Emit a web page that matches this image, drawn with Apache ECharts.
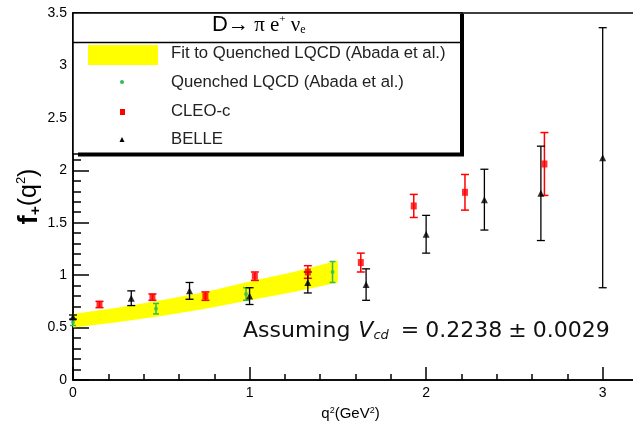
<!DOCTYPE html>
<html><head><meta charset="utf-8">
<script src="https://cdn.jsdelivr.net/npm/echarts@6/dist/echarts.min.js"></script>
<style>html,body{margin:0;padding:0;background:#fff}#c{width:633px;height:429px}</style>
</head><body><div id="c"></div>
<script>
// ---- data ----
const cleoX   = [0.15, 0.45, 0.75, 1.03, 1.33, 1.63, 1.93, 2.22, 2.67];
const cleoY   = [0.72, 0.79, 0.80, 0.99, 1.03, 1.12, 1.66, 1.79, 2.06];
const cleoErr = [0.03, 0.03, 0.04, 0.04, 0.06, 0.09, 0.11, 0.17, 0.30];

const belleX   = [0.00, 0.33, 0.66, 1.00, 1.33, 1.66, 2.00, 2.33, 2.65, 3.00];
const belleY   = [0.60, 0.78, 0.85, 0.80, 0.93, 0.91, 1.39, 1.72, 1.78, 2.12];
const belleErr = [0.02, 0.07, 0.08, 0.08, 0.10, 0.15, 0.18, 0.29, 0.45, 1.24];

const lqcdX   = [0.00, 0.47, 0.98, 1.47];
const lqcdY   = [0.55, 0.68, 0.82, 1.03];
const lqcdErr = [0.03, 0.05, 0.06, 0.10];

const bandX  = [0.00, 0.25, 0.50, 0.75, 1.00, 1.25, 1.50];
const bandLo = [0.50, 0.55, 0.61, 0.68, 0.76, 0.84, 0.93];
const bandHi = [0.63, 0.69, 0.76, 0.84, 0.94, 1.03, 1.14];

const legendLabels = ['Fit to Quenched LQCD (Abada et al.)', 'Quenched LQCD (Abada et al.)', 'CLEO-c', 'BELLE'];

// ---- build ----
const rows = (xs, ys, es) => xs.map((x, i) => [x, ys[i], ys[i] - es[i], ys[i] + es[i]]);
const bandRows = bandX.map((x, i) => [x, bandLo[i], bandHi[i]]);

function errBar(color, width, cap) {
  return function (params, api) {
    const x = api.value(0);
    const lo = api.coord([x, api.value(2)]);
    const hi = api.coord([x, api.value(3)]);
    const st = { stroke: color, lineWidth: width };
    return { type: 'group', children: [
      { type: 'line', shape: { x1: lo[0], y1: lo[1], x2: hi[0], y2: hi[1] }, style: st },
      { type: 'line', shape: { x1: lo[0] - cap, y1: lo[1], x2: lo[0] + cap, y2: lo[1] }, style: st },
      { type: 'line', shape: { x1: hi[0] - cap, y1: hi[1], x2: hi[0] + cap, y2: hi[1] }, style: st }
    ]};
  };
}

const chart = echarts.init(document.getElementById('c'), null, { renderer: 'canvas' });
const FONT = 'Liberation Sans, Arial, sans-serif';
const WIDE = 'DejaVu Sans, Verdana, sans-serif';
const LF = '16.7px ' + FONT;

chart.setOption({
  animation: false,
  backgroundColor: '#fff',
  grid: { left: 73, top: 13, width: 565, height: 367, outerBoundsMode: 'none', containLabel: false,
          show: true, borderColor: '#000', borderWidth: 1.5, backgroundColor: 'transparent' },
  xAxis: {
    type: 'value', min: 0, max: 3.2, interval: 1,
    name: '{a|q}{s|2}{a|(GeV}{s|2}{a|)}', nameLocation: 'middle', nameGap: 26,
    nameTextStyle: { padding: [0, 10, 0, 0], rich: { a: { fontFamily: FONT, fontSize: 15, color: '#000' }, s: { fontFamily: FONT, fontSize: 9, color: '#000', verticalAlign: 'top', padding: [0,0,6,0] } } },
    axisLine: { onZero: false, lineStyle: { color: '#000', width: 1.5 } },
    axisTick: { inside: true, length: 13, lineStyle: { color: '#000', width: 1.5 } },
    minorTick: { show: true, splitNumber: 5, length: 6, lineStyle: { color: '#000', width: 1.5 } },
    splitLine: { show: false },
    axisLabel: { fontFamily: FONT, fontSize: 14, color: '#000', margin: 6, formatter: v => (Math.abs(v - Math.round(v)) < 1e-9 ? String(Math.round(v)) : '') }
  },
  yAxis: {
    type: 'value', min: 0, max: 3.5, interval: 0.5,
    name: '{f|f}{p|+}{a|(q}{s|2}{a|)}', nameLocation: 'middle', nameGap: 30, nameRotate: 90, nameMoveOverlap: false,
    nameTextStyle: { rich: {
      f: { fontFamily: FONT, fontSize: 28, fontWeight: 'bold', color: '#000' },
      p: { fontFamily: FONT, fontSize: 15, fontWeight: 'bold', color: '#000', verticalAlign: 'bottom' },
      a: { fontFamily: FONT, fontSize: 25, color: '#000' },
      s: { fontFamily: FONT, fontSize: 13, color: '#000', verticalAlign: 'top' } } },
    axisLine: { lineStyle: { color: '#000', width: 1.5 } },
    axisTick: { inside: true, length: 16, lineStyle: { color: '#000', width: 1.5 } },
    minorTick: { show: true, splitNumber: 5, length: 8, lineStyle: { color: '#000', width: 1.5 } },
    splitLine: { show: false },
    axisLabel: { fontFamily: FONT, fontSize: 14, color: '#000', margin: 6 }
  },
  series: [
    { type: 'custom', name: legendLabels[0], data: bandRows, clip: true, z: 1,
      renderItem: function (params, api) {
        if (params.dataIndex !== 0) return null;
        const top = bandRows.map(r => api.coord([r[0], r[2]]));
        const bot = bandRows.slice().reverse().map(r => api.coord([r[0], r[1]]));
        return { type: 'polygon', shape: { points: top.concat(bot) }, style: { fill: '#ffff00', stroke: null } };
      } },
    { type: 'custom', data: rows(lqcdX, lqcdY, lqcdErr), renderItem: errBar('#33bb55', 1.5, 3), z: 3 },
    { type: 'custom', data: rows(cleoX, cleoY, cleoErr), renderItem: errBar('#ff0000', 1.5, 4), z: 3 },
    { type: 'custom', data: rows(belleX, belleY, belleErr), renderItem: errBar('#000', 1.3, 4), z: 3 },
    { type: 'scatter', name: legendLabels[1], data: lqcdX.map((x, i) => [x, lqcdY[i]]), symbol: 'circle', symbolSize: 4, itemStyle: { color: '#33bb55' }, z: 4 },
    { type: 'scatter', name: legendLabels[2], data: cleoX.map((x, i) => [x, cleoY[i]]), symbol: 'rect', symbolSize: [6, 7], itemStyle: { color: '#ff0000' }, z: 4 },
    { type: 'scatter', name: legendLabels[3], data: belleX.map((x, i) => [x, belleY[i]]), symbol: 'triangle', symbolSize: 7, itemStyle: { color: '#000' }, z: 4 }
  ],
  graphic: [
    { type: 'rect', z: 50, shape: { x: 73, y: 13, width: 389, height: 141 }, style: { fill: '#fff', stroke: '#000', lineWidth: 1.5 } },
    { type: 'line', z: 51, shape: { x1: 78, y1: 154.5, x2: 464, y2: 154.5 }, style: { stroke: '#000', lineWidth: 4 } },
    { type: 'line', z: 51, shape: { x1: 462, y1: 14, x2: 462, y2: 156 }, style: { stroke: '#000', lineWidth: 4 } },
    { type: 'line', z: 51, shape: { x1: 73, y1: 42.5, x2: 462, y2: 42.5 }, style: { stroke: '#000', lineWidth: 1.5 } },
    { type: 'text', z: 52, left: 212, top: 14, style: {
        text: '{a|D}{b|→ π e}{s|+}{b| ν}{u|e}',
        rich: { a: { fontFamily: 'Liberation Sans, sans-serif', fontSize: 22, fill: '#000' },
                b: { fontFamily: 'Liberation Serif, serif', fontSize: 21, fill: '#000' },
                s: { fontFamily: 'Liberation Serif, serif', fontSize: 11, fill: '#000', verticalAlign: 'top', padding: [0,0,10,0] },
                u: { fontFamily: 'Liberation Serif, serif', fontSize: 12, fill: '#000', verticalAlign: 'bottom', padding: [8,0,0,0] } } } },
    { type: 'rect', z: 52, shape: { x: 88, y: 45, width: 70, height: 20 }, style: { fill: '#ffff00' } },
    { type: 'circle', z: 52, shape: { cx: 122, cy: 82, r: 2 }, style: { fill: '#33bb55' } },
    { type: 'rect', z: 52, shape: { x: 120, y: 109, width: 5, height: 6 }, style: { fill: '#ff0000' } },
    { type: 'polygon', z: 52, shape: { points: [[122, 137], [119.5, 142], [124.5, 142]] }, style: { fill: '#000' } },
    { type: 'text', z: 52, left: 171, top: 45, style: { text: legendLabels[0], font: LF, fill: '#222' } },
    { type: 'text', z: 52, left: 171, top: 74, style: { text: legendLabels[1], font: LF, fill: '#222' } },
    { type: 'text', z: 52, left: 171, top: 103, style: { text: legendLabels[2], font: LF, fill: '#222' } },
    { type: 'text', z: 52, left: 171, top: 131, style: { text: legendLabels[3], font: LF, fill: '#222' } },
    { type: 'text', z: 52, left: 243, top: 320, style: {
        text: '{a|Assuming}{i|V}{c|cd}{e|=}{a|0.2238}{e|±}{a|0.0029}',
        rich: { a: { fontFamily: WIDE, fontSize: 22, fill: '#111' },
                e: { fontFamily: WIDE, fontSize: 22, fill: '#111', padding: [0, 6, 0, 6] },
                i: { fontFamily: WIDE, fontSize: 22, fontStyle: 'italic', fill: '#111', padding: [0, 0, 0, 8] },
                c: { fontFamily: WIDE, fontSize: 13, fontStyle: 'italic', fill: '#111', verticalAlign: 'bottom', padding: [10, 6, 0, 0] } } } }
  ]
});
</script></body></html>
